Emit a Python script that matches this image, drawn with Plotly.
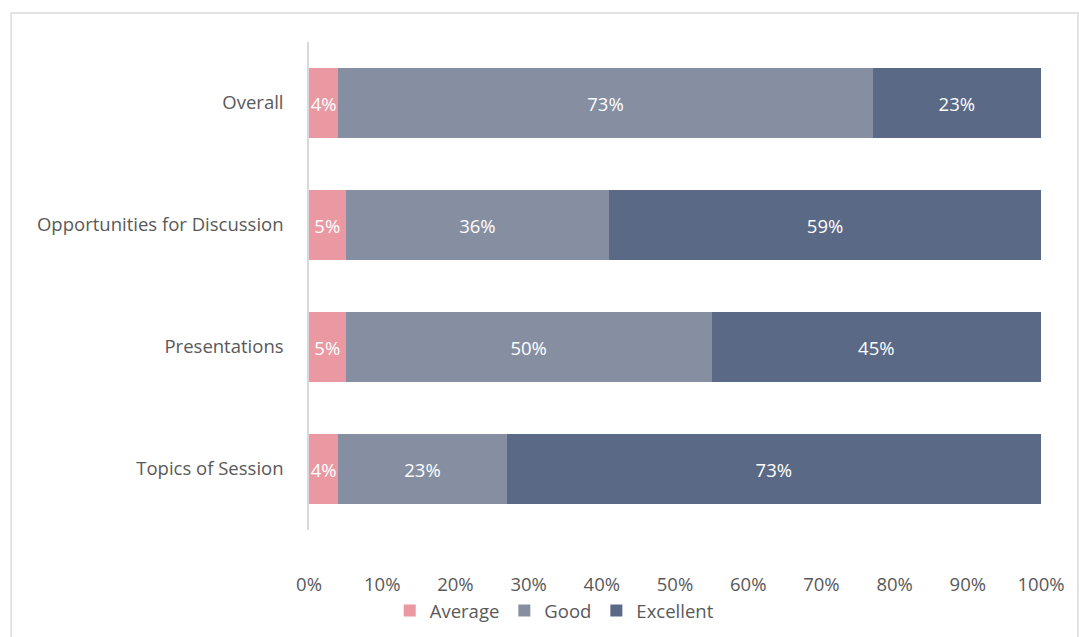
import plotly.graph_objects as go

categories = ["Overall", "Opportunities for Discussion", "Presentations", "Topics of Session"]
average = [0.04, 0.05, 0.05, 0.04]
good = [0.73, 0.36, 0.50, 0.23]
excellent = [0.23, 0.59, 0.45, 0.73]
tick_vals = [i / 10 for i in range(11)]

FONT = "Open Sans, sans-serif"
series = [("Average", average, "#EA99A2"), ("Good", good, "#868FA2"), ("Excellent", excellent, "#5A6985")]

fig = go.Figure()
for name, vals, color in series:
    fig.add_trace(go.Bar(
        y=categories, x=vals, name=name, orientation="h",
        marker=dict(color=color, line=dict(width=0)),
        text=[f"{round(v*100)}%" for v in vals],
        textposition="inside", insidetextanchor="middle", textangle=0,
        constraintext="none",
        textfont=dict(color="white", size=18.5, family=FONT),
    ))

fig.update_layout(
    barmode="stack", bargap=0.43,
    width=1079, height=637,
    margin=dict(l=309, r=38, t=42, b=107, autoexpand=False),
    paper_bgcolor="white", plot_bgcolor="white",
    font=dict(family=FONT, size=18.5, color="#595959"),
    legend=dict(orientation="h", x=0.335, xanchor="center", y=-0.166, yanchor="middle",
                bgcolor="rgba(0,0,0,0)",
                font=dict(size=18.5, color="#595959"), itemwidth=30, traceorder="normal"),
    xaxis=dict(range=[0, 1], tickvals=tick_vals, tickformat=".0%", showgrid=False,
               zeroline=False, showline=False, ticks="", ticklabelstandoff=41,
               tickfont=dict(size=18.5, color="#595959")),
    yaxis=dict(categoryorder="array", categoryarray=categories[::-1], showline=True,
               linecolor="#D9D9D9", linewidth=1.5, showgrid=False, ticks="",
               ticklabelstandoff=20, tickfont=dict(size=18.5, color="#595959")),
    shapes=[dict(type="rect", xref="paper", yref="paper", x0=-0.407, x1=1.0505,
                 y0=-0.25, y1=1.0594, line=dict(color="#D9D9D9", width=1.5), layer="below")],
)

fig.write_html("out.html")
